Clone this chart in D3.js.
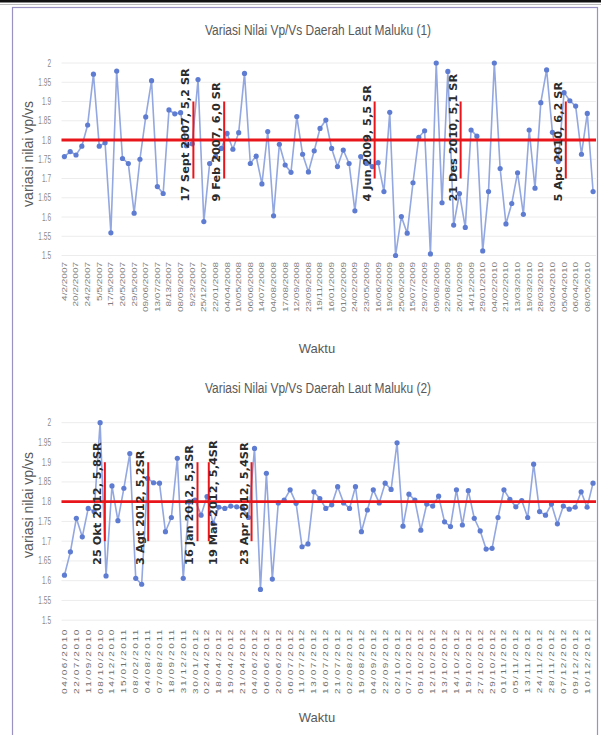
<!DOCTYPE html>
<html>
<head>
<meta charset="utf-8">
<script src="https://cdn.jsdelivr.net/npm/d3@7"></script>
<style>
body { margin:0; background:#fff; }
</style>
</head>
<body>
<div id="chart"></div>
<script>
// nilai vp/vs, panel 1 (2007-2010)
var vals1 = [1.757,1.77,1.761,1.784,1.839,1.971,1.784,1.793,1.559,1.979,
	1.752,1.739,1.61,1.75,1.86,1.954,1.679,1.661,1.878,1.868,
	1.871,1.785,1.79,1.957,1.588,1.739,1.757,1.778,1.817,1.776,
	1.819,1.973,1.739,1.758,1.686,1.822,1.603,1.789,1.735,1.716,
	1.861,1.763,1.717,1.772,1.83,1.852,1.778,1.731,1.774,1.739,
	1.616,1.757,1.739,1.731,1.741,1.666,1.872,1.5,1.601,1.558,
	1.689,1.807,1.824,1.504,2.0,1.637,1.978,1.579,1.661,1.573,
	1.826,1.81,1.512,1.666,2.0,1.726,1.582,1.635,1.715,1.607,
	1.826,1.675,1.897,1.982,1.82,1.744,1.923,1.902,1.888,1.763,
	1.869,1.666];
var labs1 = ["4/2/2007","20/2/2007","24/2/2007","5/5/2007","17/5/2007","26/5/2007","29/5/2007","09/06/2007","13/07/2007","8/13/2007",
	"08/09/2007","9/23/2007","25/12/2007","22/01/2008","04/04/2008","10/05/2008","06/06/2008","14/07/2008","04/08/2008","17/08/2008",
	"12/09/2008","23/09/2008","19/11/2008","16/01/2009","01/02/2009","24/02/2009","23/05/2009","16/06/2009","19/06/2009","25/06/2009",
	"15/07/2009","29/07/2009","09/08/2009","22/08/2009","26/10/2009","14/12/2009","29/01/2010","04/02/2010","21/02/2010","13/03/2010",
	"19/03/2010","28/03/2010","03/04/2010","05/04/2010","06/04/2010","08/05/2010"];
var evPos1 = [22.2, 27.5, 53.4, 68.2, 86.3];
var evText1 = ["17 Sept 2007, 5,2 SR","9 Feb 2007, 6,0 SR","4 Jun 2009, 5,5 SR","21 Des 2010, 5,1 SR","5 Apc 2010, 6,2 SR"];
var evSide1 = [-1,-1,-1,-1,-1];

// panel 2 (2010-2012)
var vals2 = [1.614,1.673,1.758,1.711,1.783,1.775,2.0,1.612,1.84,1.752,
	1.834,1.922,1.606,1.591,1.859,1.848,1.847,1.724,1.76,1.91,
	1.606,1.80,1.804,1.766,1.813,1.745,1.786,1.783,1.789,1.787,
	1.783,1.76,1.935,1.578,1.872,1.604,1.797,1.804,1.83,1.796,
	1.686,1.693,1.825,1.808,1.783,1.792,1.838,1.797,1.783,1.838,
	1.724,1.779,1.83,1.797,1.847,1.831,1.949,1.738,1.819,1.804,
	1.728,1.794,1.789,1.814,1.749,1.737,1.83,1.741,1.828,1.758,
	1.726,1.68,1.682,1.76,1.83,1.806,1.787,1.803,1.76,1.895,
	1.775,1.766,1.794,1.744,1.789,1.781,1.786,1.825,1.786,1.847];
var labs2 = ["04/06/2010","22/07/2010","11/09/2010","08/10/2010","14/12/2010","15/01/2011","08/02/2011","04/08/2011","07/08/2011","18/09/2011",
	"31/12/2011","30/01/2012","02/04/2012","18/04/2012","19/04/2012","21/04/2012","04/06/2012","06/06/2012","20/06/2012","06/07/2012",
	"11/07/2012","13/07/2012","16/07/2012","21/07/2012","02/08/2012","19/08/2012","04/09/2012","22/09/2012","02/10/2012","07/10/2012",
	"09/10/2012","12/10/2012","13/10/2012","14/10/2012","19/10/2012","27/10/2012","29/10/2012","01/11/2012","05/11/2012","13/11/2012",
	"24/11/2012","28/11/2012","07/12/2012","09/12/2012","10/12/2012"];
var evPos2 = [6.8, 14.1, 22.4, 24.3, 31.5];
var evText2 = ["25 Okt 2012, 5,8SR","3 Agt 2012, 5,2SR","16 Jan 2012, 5,3SR","19 Mar 2012, 5,4SR","23 Apr 2012, 5,4SR"];
var evSide2 = [-1,-1,-1,0.5,-1];

var yTicks = [1.5,1.55,1.6,1.65,1.7,1.75,1.8,1.85,1.9,1.95,2];
var refLine = 1.8;

var w = 601, h = 735;
var svg = d3.select("#chart").append("svg").attr("width", w).attr("height", h);

// frame
svg.append("rect").attr("x",0).attr("y",0).attr("width",w).attr("height",2.5).attr("fill","#111");
svg.append("line").attr("x1",0).attr("x2",w).attr("y1",4.5).attr("y2",4.5).attr("stroke","#bbb").attr("stroke-width",1);
svg.append("rect").attr("x",12.5).attr("y",7.5).attr("width",585).attr("height",740)
	.attr("fill","none").attr("stroke","#9a93c2").attr("stroke-width",1.2);

function disptext(g,tex,x,y,size,col,fam) {
	return g.append("text").text(tex)
		.attr("x",x).attr("y",y)
		.attr("font-size",size)
		.attr("fill",col)
		.attr("font-family",fam);
}

function panel(vals, labs, evPos, evText, evSide, title, p) {
	var g = svg.append("g");
	var x = d3.scalePoint().domain(d3.range(vals.length)).range([61.5, 596]).padding(0.5);
	var y = d3.scaleLinear().domain([1.5, 2]).range([p.yb, p.yt]);
	var step = x.step();
	function xf(v) { return x(0) + v*step; }

	// gridlines
	g.selectAll(".grid").data(yTicks).enter().append("line")
		.attr("x1",61.5).attr("x2",596)
		.attr("y1",function(d){return y(d);}).attr("y2",function(d){return y(d);})
		.attr("stroke","#ececec").attr("stroke-width",1);

	// y tick labels
	g.selectAll(".yt").data(yTicks).enter().append("text")
		.text(function(d){return d3.format("")(d);})
		.attr("transform",function(d){return "translate(51,"+(y(d)+3.5)+") scale(0.62,1)";})
		.attr("text-anchor","end")
		.attr("font-size",10.5).attr("fill","#8a8a8a")
		.attr("font-family","Liberation Sans");

	// x tick labels, every 2nd category
	g.selectAll(".xt").data(labs).enter().append("text")
		.text(function(d){return d;})
		.attr("transform",function(d,i){return "translate("+x(i*2)+","+p.ly+") scale(0.7,1) rotate(-90)";})
		.attr("text-anchor","end").attr("dy","0.35em")
		.attr("font-size",10).attr("letter-spacing",p.ls)
		.attr("fill",p.lc).attr("font-family","Liberation Sans");

	// series
	var line = d3.line().x(function(d,i){return x(i);}).y(function(d){return y(d);});
	g.append("path").datum(vals).attr("d",line)
		.attr("fill","none").attr("stroke","#93a7e0").attr("stroke-width",1.6);
	g.selectAll(".dot").data(vals).enter().append("circle")
		.attr("cx",function(d,i){return x(i);})
		.attr("cy",function(d){return y(d);})
		.attr("r",2.6).attr("fill","#5e7dd2");

	// reference line
	g.append("line").attr("x1",61.5).attr("x2",596)
		.attr("y1",y(refLine)).attr("y2",y(refLine))
		.attr("stroke","#e8161b").attr("stroke-width",2.8);

	// event lines + labels
	g.selectAll(".ev").data(evPos).enter().append("line")
		.attr("x1",function(d){return xf(d);}).attr("x2",function(d){return xf(d);})
		.attr("y1",y(1.9)).attr("y2",y(1.7))
		.attr("stroke","#e8161b").attr("stroke-width",2);
	g.selectAll(".evt").data(evPos).enter().append("text")
		.text(function(d,i){return evText[i];})
		.attr("transform",function(d,i){return "translate("+(xf(d)+evSide[i]*8)+","+y(1.64)+") rotate(-90)";})
		.attr("dy","0.35em")
		.attr("font-size",11.3).attr("font-weight","bold")
		.attr("fill","#2b2b2b").attr("font-family","DejaVu Sans");

	// titles
	disptext(g,title,318,p.ty,14,"#595959","Liberation Sans")
		.attr("text-anchor","middle").attr("textLength",226).attr("lengthAdjust","spacingAndGlyphs");
	disptext(g,"variasi nilai vp/vs",0,0,14,"#595959","Liberation Sans")
		.attr("text-anchor","middle")
		.attr("transform","translate(33,"+p.yc+") rotate(-90)");
	disptext(g,"Waktu",317,p.wy,13,"#595959","Liberation Sans")
		.attr("text-anchor","middle");
}

panel(vals1, labs1, evPos1, evText1, evSide1, "Variasi Nilai Vp/Vs Daerah Laut Maluku (1)",
	{yt:63, yb:255.5, ly:262, ls:0, lc:"#7f7f7f", ty:35, yc:154, wy:353});
panel(vals2, labs2, evPos2, evText2, evSide2, "Variasi Nilai Vp/Vs Daerah Laut Maluku (2)",
	{yt:422.7, yb:620.2, ly:628, ls:1.6, lc:"#6e6e6e", ty:393, yc:505, wy:722});
</script>
</body>
</html>
